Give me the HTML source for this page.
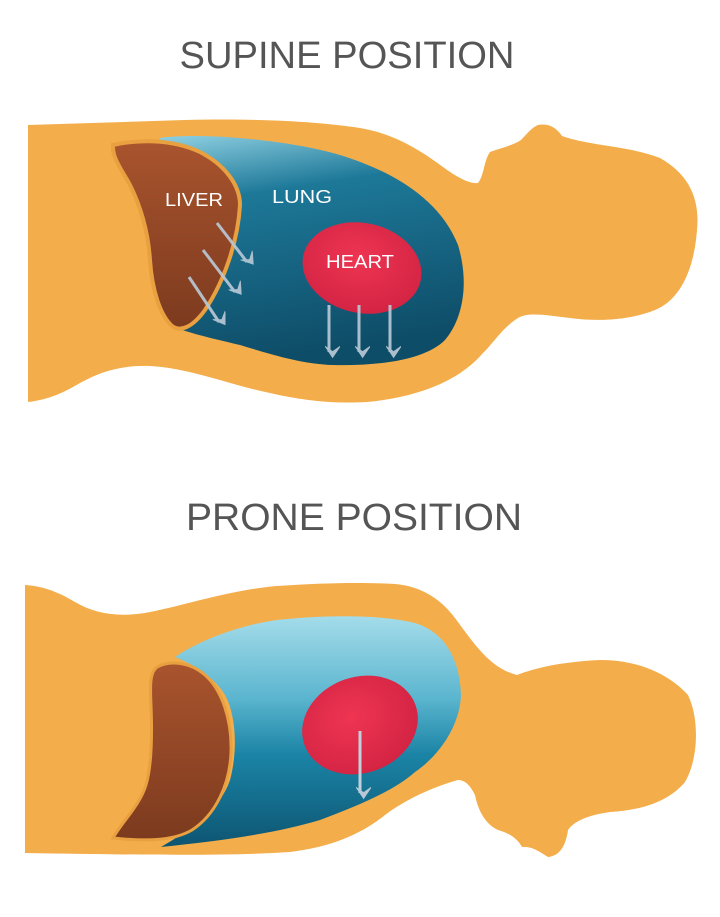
<!DOCTYPE html>
<html><head><meta charset="utf-8"><style>
html,body{margin:0;padding:0;background:#fff;width:720px;height:917px;overflow:hidden}
</style></head><body>
<svg width="720" height="917" viewBox="0 0 720 917" xmlns="http://www.w3.org/2000/svg">
<defs>
<linearGradient id="lung1" x1="0" y1="0" x2="0.2" y2="1">
<stop offset="0" stop-color="#8fd0e2"/><stop offset="0.3" stop-color="#1d7898"/><stop offset="1" stop-color="#0e4d68"/></linearGradient>
<linearGradient id="lung2" x1="0" y1="0" x2="0" y2="1">
<stop offset="0" stop-color="#a4dcea"/><stop offset="0.35" stop-color="#5cb6cf"/><stop offset="0.6" stop-color="#1b84a6"/><stop offset="1" stop-color="#0d5572"/></linearGradient>
<linearGradient id="liv" x1="0" y1="0" x2="0" y2="1">
<stop offset="0" stop-color="#a9542e"/><stop offset="1" stop-color="#7c3a1e"/></linearGradient>
<radialGradient id="hrt" cx="0.45" cy="0.4" r="0.6">
<stop offset="0" stop-color="#ee3552"/><stop offset="1" stop-color="#d42444"/></radialGradient>
<marker id="ah" viewBox="0 0 20 16" refX="10" refY="12" markerWidth="18" markerHeight="15" orient="auto-start-reverse" markerUnits="userSpaceOnUse">
<path d="M0,0 L10,15 L20,0 L10,7 Z" fill="#b8c8d6" transform="rotate(-90 10 8)"/></marker>
</defs>

<text x="347" y="68" font-family="Liberation Sans, sans-serif" font-size="38" fill="#555" text-anchor="middle" textLength="335" lengthAdjust="spacingAndGlyphs">SUPINE POSITION</text>
<text x="354" y="530" font-family="Liberation Sans, sans-serif" font-size="38" fill="#555" text-anchor="middle" textLength="336" lengthAdjust="spacingAndGlyphs">PRONE POSITION</text>

<!-- supine body -->
<path fill="#f3ad4a" d="M28,125 L185,120 C260,118 323,122 360,128 C395,134 420,150 443,167 C458,178 470,184 478,183 C484,176 484,160 490,152 C500,148 512,146 521,140 C527,134 531,128 538,125 C548,123 556,127 562,136 C590,146 630,146 660,158 C690,175 700,200 697,230 C694,270 680,300 655,310 C630,320 600,322 570,318 C545,315 528,312 518,318 C502,328 492,345 483,353 C460,380 420,397 367,402 C330,404 300,400 270,393 C230,385 190,368 150,366 C120,365 100,372 80,383 C60,395 45,400 28,402 Z"/>
<!-- supine lung -->
<path fill="url(#lung1)" d="M160,138 C200,132 290,140 340,155 C395,172 440,200 458,245 C470,285 462,320 445,340 C425,360 380,366 333,365 C300,364 267,353 240,345 C210,338 185,332 172,326 C160,300 165,200 160,138 Z"/>
<!-- supine liver -->
<path fill="url(#liv)" stroke="#e8a040" stroke-width="4" d="M113,145 C135,140 170,138 200,152 C225,165 240,185 240,205 C238,240 225,280 205,310 C192,328 180,332 172,326 C160,315 152,290 150,260 C148,230 140,205 130,185 C122,170 112,158 113,145 Z"/>
<ellipse cx="362" cy="268" rx="60" ry="45" transform="rotate(12 362 268)" fill="url(#hrt)"/>
<g font-family="Liberation Sans, sans-serif" font-size="18" fill="#fff" text-anchor="middle">
<text x="194" y="206" textLength="58" lengthAdjust="spacingAndGlyphs">LIVER</text>
<text x="302" y="203" textLength="60" lengthAdjust="spacingAndGlyphs">LUNG</text>
<text x="360" y="268" textLength="68" lengthAdjust="spacingAndGlyphs">HEART</text>
</g>
<g stroke="#b8c8d6" stroke-width="3" marker-end="url(#ah)" opacity="0.92">
<line x1="329" y1="305" x2="329" y2="352"/>
<line x1="359" y1="305" x2="359" y2="352"/>
<line x1="390" y1="305" x2="390" y2="352"/>
<line x1="217" y1="223" x2="247" y2="262"/>
<line x1="203" y1="250" x2="235" y2="292"/>
<line x1="189" y1="277" x2="219" y2="322"/>
</g>

<!-- prone body -->
<path fill="#f3ad4a" d="M25,585 C40,586 55,590 75,602 C95,614 120,618 150,612 C190,604 230,590 277,586 C320,583 360,582 395,584 C420,586 440,598 455,618 C475,645 490,668 517,675 C535,668 560,662 600,660 C640,660 670,675 688,695 C700,720 698,760 685,782 C670,800 645,810 610,812 C590,815 575,820 568,830 C566,845 560,856 548,857 C540,852 532,846 522,847 C518,840 512,834 498,830 C485,824 478,810 475,795 C470,785 465,780 458,780 C430,788 405,800 385,815 C360,835 330,847 290,852 C230,856 150,855 25,853 Z"/>
<!-- prone lung -->
<path fill="url(#lung2)" d="M175,657 C200,640 240,625 277,620 C320,615 380,614 415,623 C445,632 460,660 461,695 C460,725 440,755 415,772 C395,790 360,805 320,820 C280,832 230,840 161,847 C190,830 220,810 230,780 C238,750 236,715 225,695 C215,678 195,665 175,657 Z"/>
<!-- prone liver -->
<path fill="url(#liv)" stroke="#e8a040" stroke-width="3" d="M157,667 C170,660 190,662 205,675 C222,690 232,720 231,752 C230,785 215,815 192,830 C175,840 150,842 113,838 C122,822 140,805 146,785 C152,765 152,730 151,705 C150,685 150,672 157,667 Z"/>
<ellipse cx="360" cy="725" rx="59" ry="48" transform="rotate(-20 360 725)" fill="url(#hrt)"/>
<line x1="360" y1="731" x2="360" y2="793" stroke="#c0d0dc" stroke-width="3" marker-end="url(#ah)"/>
</svg>
</body></html>
